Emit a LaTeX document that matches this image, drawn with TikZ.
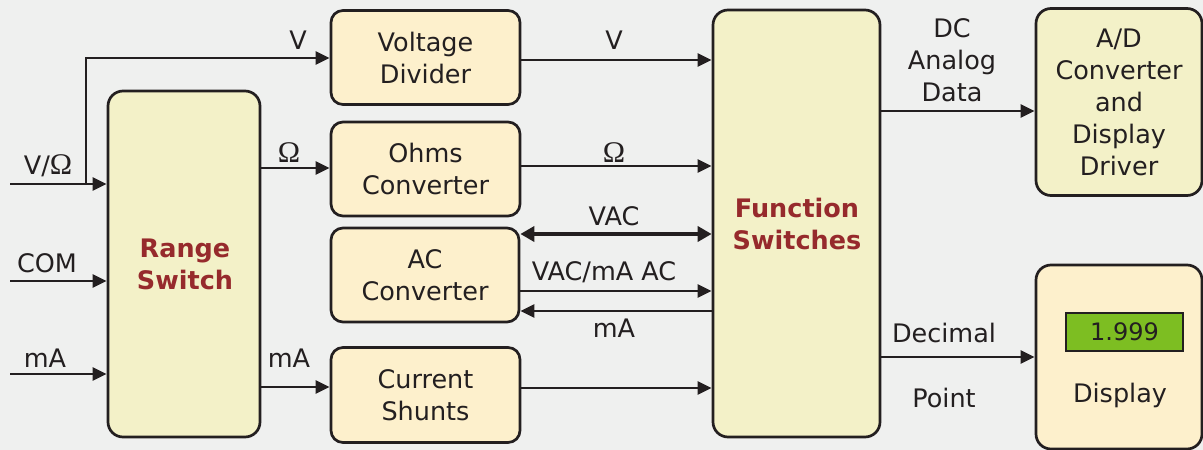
\documentclass[tikz,border=0pt]{standalone}
\usepackage{fontspec}
\setmainfont{DejaVu Sans}
\newfontfamily\omfont{Liberation Serif}
\usetikzlibrary{arrows.meta}
\definecolor{bg}{HTML}{EFF0EF}
\definecolor{fillA}{HTML}{F3F1C8}
\definecolor{fillB}{HTML}{FDF0CC}
\definecolor{txtred}{HTML}{962A2C}
\definecolor{lcd}{HTML}{7DBE22}
\definecolor{ink}{HTML}{231F20}
\newcommand{\Om}{{\omfont\fontsize{30}{32}\selectfont Ω}}
\tikzset{
  blk/.style={draw=ink, line width=2.7pt, rounded corners=12pt, inner sep=0pt, align=center,
    font=\fontsize{25.5}{32}\selectfont, text=ink},
  blkA/.style={blk, fill=fillA},
  blkB/.style={blk, fill=fillB},
  lbl/.style={font=\fontsize{25.5}{32}\selectfont, text=ink, inner sep=0pt, align=center},
  arr/.style={draw=ink, line width=2.7pt, -{Triangle[length=14pt,width=13pt]}},
  red/.style={font=\fontsize{25.5}{32}\bfseries\selectfont, text=txtred, align=center, inner sep=0pt}
}
\begin{document}
\begin{tikzpicture}[x=1pt,y=-1pt]
\fill[bg] (0,0) rectangle (1203,450);
\useasboundingbox (0,0) rectangle (1203,450);
% blocks
\node[blkA, minimum width=152pt, minimum height=346pt, rounded corners=15pt] (rs) at (184,264) {};
\node[red] (rstxt) at (185,264) {Range\\Switch};
\node[blkB, minimum width=189pt, minimum height=94pt] (vd) at (425.5,57.5) {Voltage\\Divider};
\node[blkB, minimum width=189pt, minimum height=94pt] (oc) at (425.5,169) {Ohms\\Converter};
\node[blkB, minimum width=188pt, minimum height=94pt] (ac) at (425,275) {AC\\Converter};
\node[blkB, minimum width=189pt, minimum height=95pt] (cs) at (425.5,395) {Current\\Shunts};
\node[blkA, minimum width=167pt, minimum height=427pt, rounded corners=15pt] (fs) at (796.5,223.5) {};
\node[red] (fstxt) at (797,224) {Function\\Switches};
\node[blkA, minimum width=166pt, minimum height=187pt, rounded corners=15pt] (ad) at (1119,102) {A/D\\Converter\\and\\Display\\Driver};
\node[blkB, minimum width=166pt, minimum height=184pt, rounded corners=15pt] (dp) at (1119,357) {};
\node[draw=ink, line width=2.2pt, fill=lcd, minimum width=117pt, minimum height=38pt, inner sep=0pt,
  font=\fontsize{24}{28}\selectfont, text=ink] (lcdbox) at (1124.5,332) {1.999};
\node[lbl] (dptxt) at (1120,395) {Display};
% level coordinates
\coordinate (in1) at (10,184);
\coordinate (in2) at (10,281);
\coordinate (in3) at (10,374);
\coordinate (br) at (86,184);
\coordinate (vtop) at (86,58);
\coordinate (yO) at (0,168);
\coordinate (ymA) at (0,387);
\coordinate (yV) at (0,60);
\coordinate (yOm) at (0,166);
\coordinate (yVAC) at (0,234);
\coordinate (yVACm) at (0,291);
\coordinate (ymAb) at (0,311);
\coordinate (yCS) at (0,388);
\coordinate (yAD) at (0,111);
\coordinate (yDP) at (0,357);
% connectors
\draw[arr] (in1) -- (rs.west |- in1);
\draw[arr] (in2) -- (rs.west |- in2);
\draw[arr] (in3) -- (rs.west |- in3);
\draw[arr] (br) -- (vtop) -- (vd.west |- vtop);
\draw[arr] (rs.east |- yO) -- (oc.west |- yO);
\draw[arr] (rs.east |- ymA) -- (cs.west |- ymA);
\draw[arr] (vd.east |- yV) -- (fs.west |- yV);
\draw[arr] (oc.east |- yOm) -- (fs.west |- yOm);
\draw[draw=ink, line width=4pt, {Triangle[length=14pt,width=15pt]}-{Triangle[length=14pt,width=15pt]}] (ac.east |- yVAC) -- (fs.west |- yVAC);
\draw[arr] (ac.east |- yVACm) -- (fs.west |- yVACm);
\draw[arr] (fs.west |- ymAb) -- (ac.east |- ymAb);
\draw[arr] (cs.east |- yCS) -- (fs.west |- yCS);
\draw[arr] (fs.east |- yAD) -- (ad.west |- yAD);
\draw[arr] (fs.east |- yDP) -- (dp.west |- yDP);
% labels
\node[lbl] (lVO) at (48,166) {V/\Om};
\node[lbl] (lCOM) at (47,263) {COM};
\node[lbl] (lmA1) at (45,358) {mA};
\node[lbl] (lV1) at (298,40) {V};
\node[lbl] (lO1) at (289,153) {\Om};
\node[lbl] (lmA2) at (289,358) {mA};
\node[lbl] (lV2) at (614,40) {V};
\node[lbl] (lO2) at (614,153) {\Om};
\node[lbl] (lVAC) at (614,216) {VAC};
\node[lbl] (lVACm) at (604,272) {VAC/mA AC};
\node[lbl] (lmA3) at (614,328) {mA};
\node[lbl] (lDC) at (952,60) {DC\\Analog\\Data};
\node[lbl] (lDec) at (944,333) {Decimal};
\node[lbl] (lPt) at (944,398) {Point};
\end{tikzpicture}
\end{document}
